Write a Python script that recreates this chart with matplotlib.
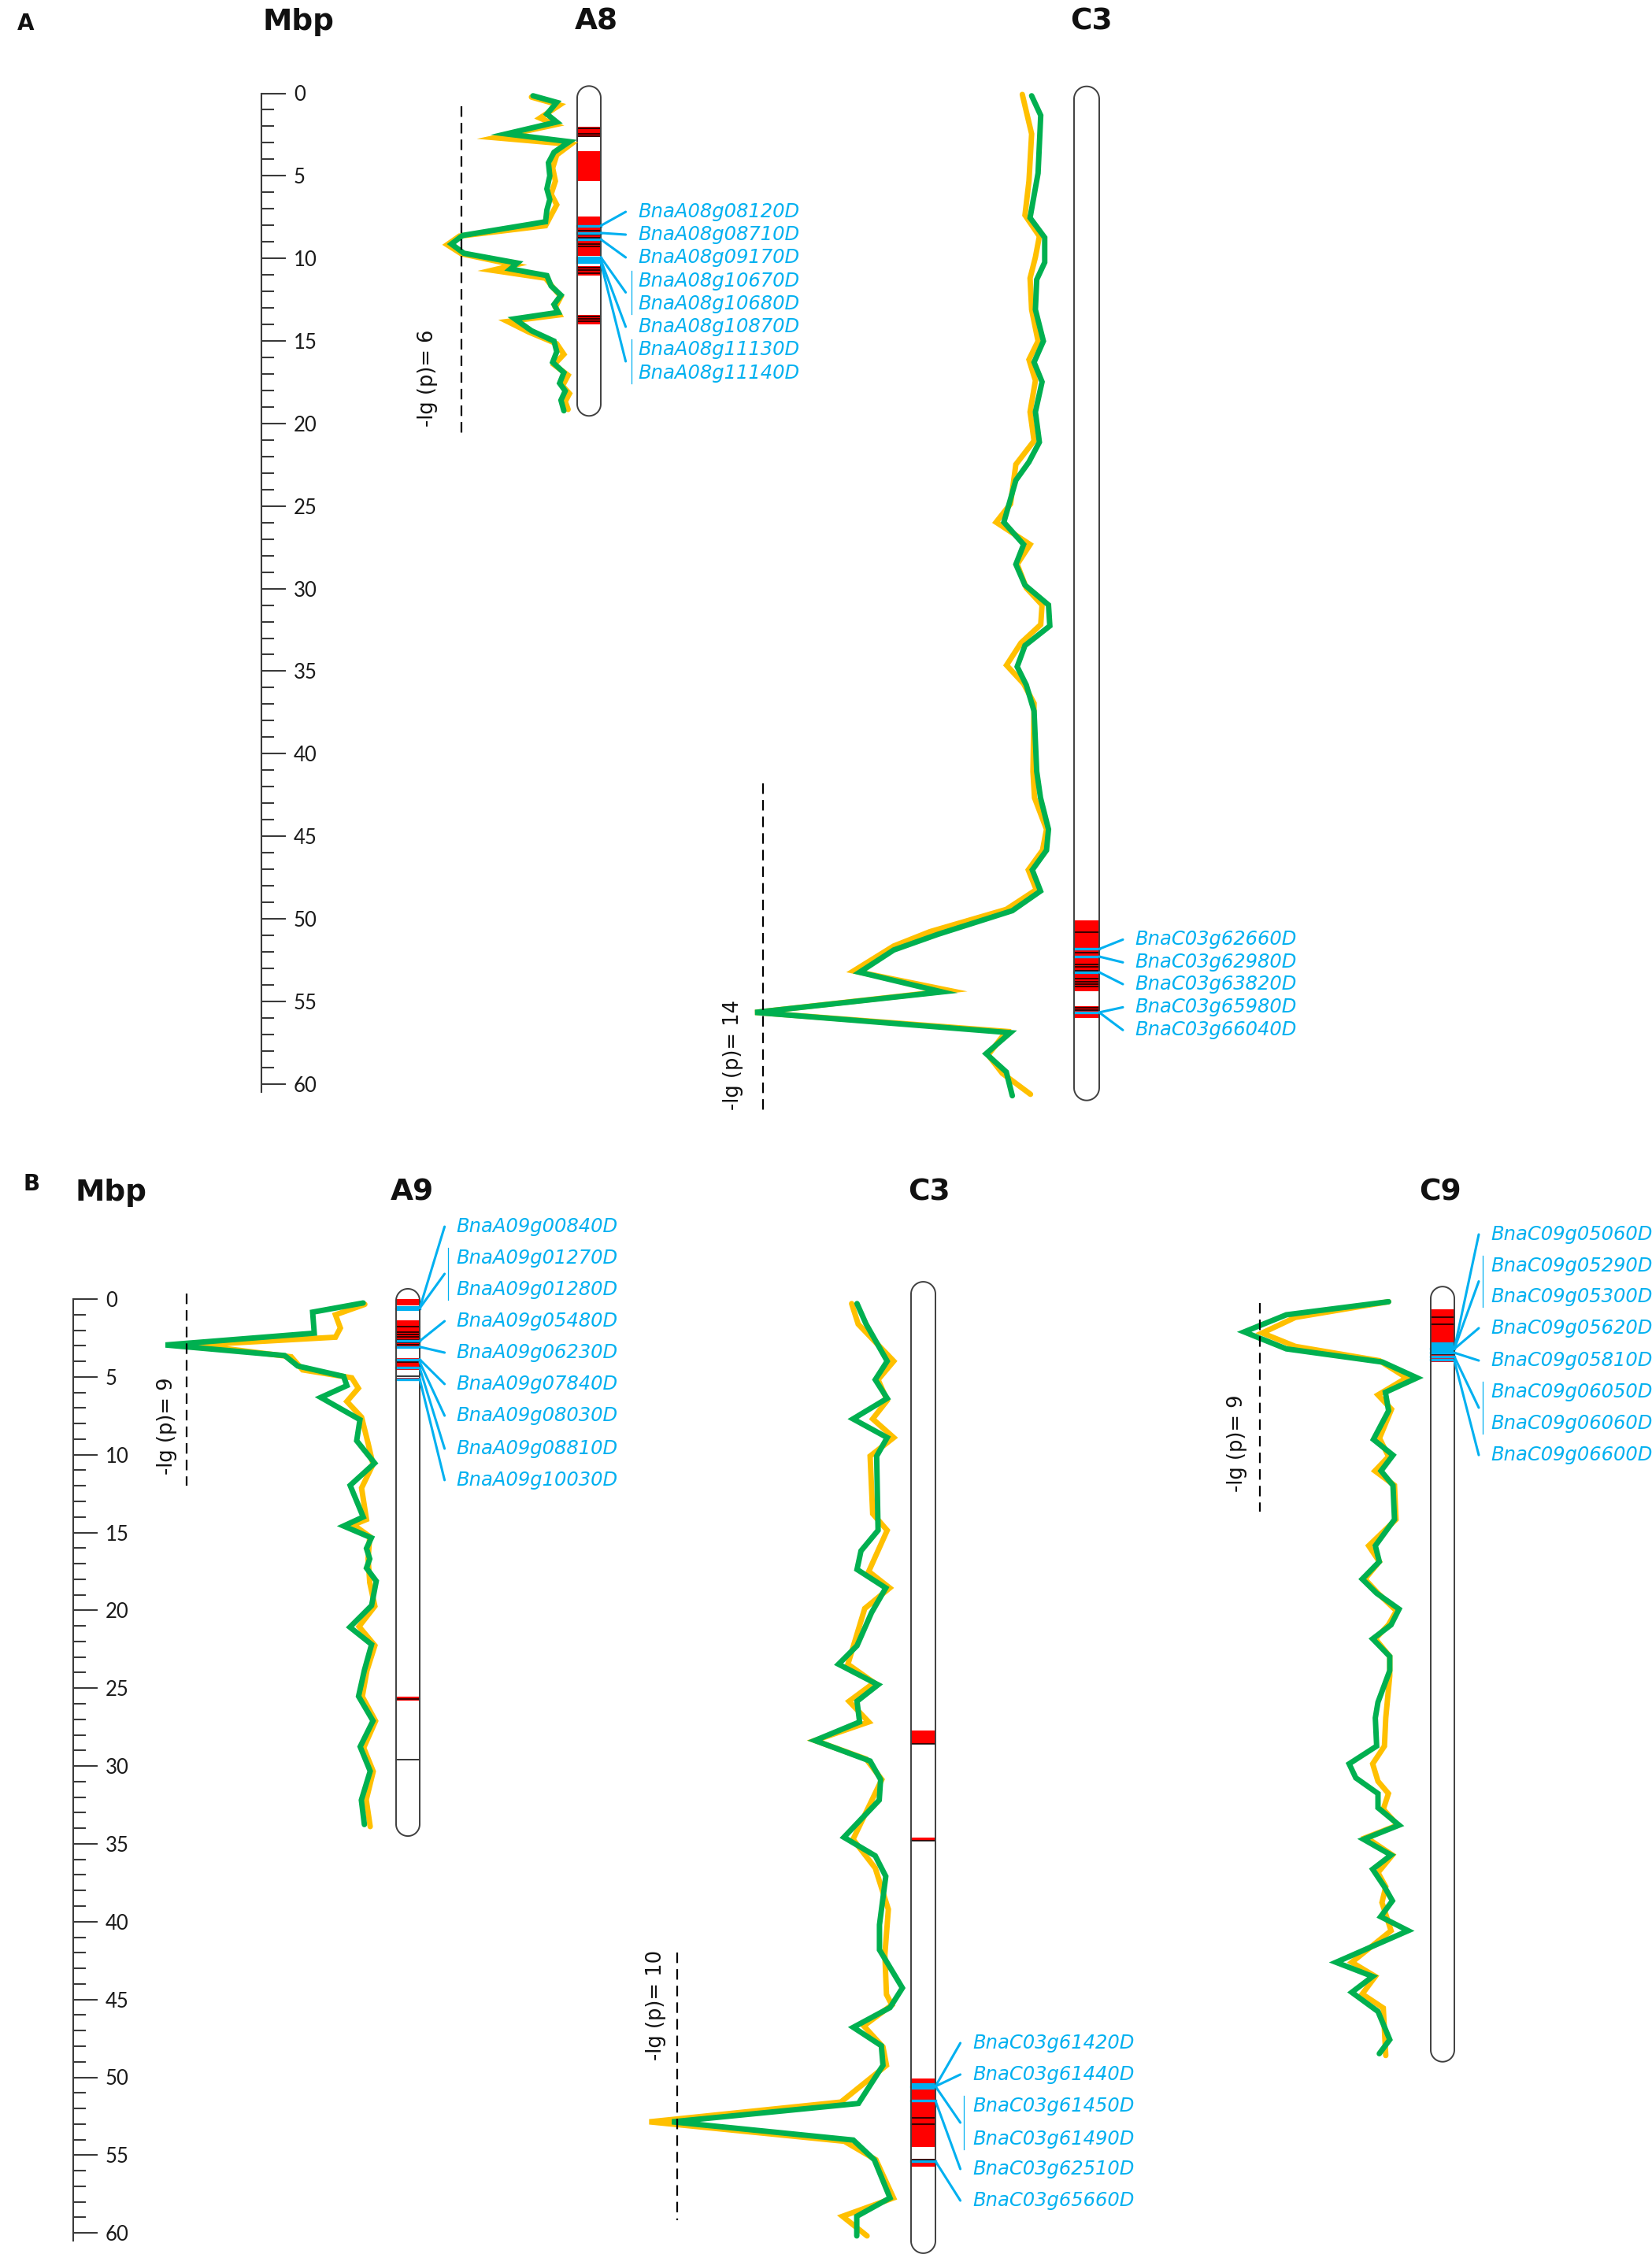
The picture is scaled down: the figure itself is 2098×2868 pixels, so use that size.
import numpy as np
import matplotlib
matplotlib.use("Agg")
import matplotlib.pyplot as plt
from matplotlib.patches import Rectangle, PathPatch
from matplotlib.path import Path

plt.rcParams['font.family'] = ['DejaVu Sans']

W, H = 2098, 2868
GREEN, YELLOW, BLUE, RED = '#00B050', '#FFC000', '#00B0F0', '#FF0000'
OUTLINE = '#3f3f3f'

# ======================= DATA =======================
ruler_major = [0, 5, 10, 15, 20, 25, 30, 35, 40, 45, 50, 55, 60]
ruler_minor = list(range(0, 61))

# ---------- Panel A : A8 ----------
A8_green_mbp = [0.15, 0.55, 1.26, 1.74, 2.46, 2.93, 3.57, 4.21, 5.0, 5.79, 6.43, 7.07, 7.78, 8.61, 9.13, 9.69,
                10.28, 10.64, 11.04, 11.67, 12.23, 12.79, 13.27, 13.66, 14.38, 15.01, 15.65, 16.29, 16.92, 17.56,
                18.03, 18.59, 19.23]
A8_green_lgp = [2.29, 1.06, 1.57, 1.06, 3.68, 0.40, 1.20, 1.49, 1.42, 1.57, 1.42, 1.57, 1.64, 5.94, 6.52, 5.87,
                3.10, 3.46, 1.57, 1.35, 0.84, 1.20, 0.98, 3.24, 2.37, 1.20, 1.06, 1.27, 0.69, 0.91, 0.62, 0.84, 0.69]
A8_yellow_mbp = [0.23, 0.71, 1.50, 1.90, 2.69, 3.09, 3.73, 4.52, 5.32, 6.11, 6.75, 7.38, 8.02, 8.65, 9.17, 9.72,
                 10.40, 10.72, 11.20, 11.84, 12.31, 12.95, 13.42, 13.82, 14.46, 15.17, 15.81, 16.44, 17.08, 17.72,
                 18.19, 18.67, 19.15]
A8_yellow_lgp = [2.37, 0.91, 1.93, 1.13, 4.26, 0.33, 1.06, 1.27, 1.13, 1.35, 1.06, 1.35, 1.64, 6.10, 6.74, 6.00,
                 3.24, 4.41, 1.64, 1.20, 0.84, 1.13, 0.91, 3.61, 2.51, 1.06, 0.69, 1.20, 0.47, 0.76, 0.40, 0.62, 0.47]
A8_threshold = 6
A8_genes = ['BnaA08g08120D', 'BnaA08g08710D', 'BnaA08g09170D', 'BnaA08g10670D', 'BnaA08g10680D',
            'BnaA08g10870D', 'BnaA08g11130D', 'BnaA08g11140D']
A8_label_mbp = [7.18, 8.56, 9.94, 11.37, 12.75, 14.14, 15.52, 16.95]
A8_groups = [[0], [1], [2], [3, 4], [5], [6, 7]]
A8_group_mbp = [8.02, 8.46, 8.85, 9.93, 10.09, 10.24]
A8_red = [(2.05, 2.65), (3.49, 5.32), (7.46, 9.85), (10.46, 11.04), (13.42, 13.98)]
A8_black = [2.1, 2.45, 2.6, 8.34, 8.57, 8.73, 9.13, 9.29, 10.56, 10.72, 10.88, 13.5, 13.65, 13.8]
A8_blue = [8.02, 8.46, 8.85, 9.93, 10.09, 10.24]
A8_blueband = []

# ---------- Panel A : C3 ----------
AC3_green_mbp = [0.15, 1.34, 4.84, 7.54, 8.74, 10.24, 11.28, 13.10, 15.01, 16.29, 17.48, 19.30, 21.13, 22.33,
                 23.44, 25.98, 27.33, 28.53, 29.79, 30.99, 32.26, 33.45, 34.73, 35.84, 37.42, 41.08, 42.67, 44.58,
                 45.85, 47.04, 48.32, 49.51, 50.94, 51.89, 53.24, 54.43, 55.67, 56.90, 58.17, 59.28, 60.72]
AC3_green_lgp = [1.91, 1.50, 1.62, 1.98, 1.32, 1.32, 1.68, 1.74, 1.38, 1.80, 1.44, 1.74, 1.56, 2.03, 2.62, 3.16,
                 2.27, 2.62, 2.21, 1.15, 1.09, 2.21, 2.56, 2.15, 1.80, 1.68, 1.51, 1.15, 1.24, 1.88, 1.51, 2.78,
                 6.13, 8.12, 9.66, 5.95, 14.36, 2.87, 3.96, 3.05, 2.78]
AC3_yellow_mbp = [0.07, 2.46, 5.32, 7.38, 8.66, 9.93, 11.20, 13.10, 15.01, 16.13, 17.40, 19.30, 21.05, 22.48,
                  24.87, 25.98, 27.33, 28.53, 29.96, 30.99, 32.18, 33.29, 34.64, 35.76, 36.95, 41.08, 42.67, 44.58,
                  45.85, 47.04, 48.24, 49.43, 50.78, 51.65, 53.16, 54.35, 55.67, 56.82, 58.25, 59.36, 60.63]
AC3_yellow_lgp = [2.33, 1.91, 2.03, 2.21, 1.56, 1.74, 1.98, 1.91, 1.62, 2.03, 1.74, 1.98, 1.80, 2.62, 2.86, 3.51,
                  1.98, 2.56, 2.15, 1.44, 1.50, 2.39, 3.04, 2.27, 1.80, 1.85, 1.78, 1.24, 1.42, 2.06, 1.70, 3.05,
                  6.49, 8.12, 9.93, 5.59, 14.36, 3.05, 3.87, 3.23, 1.96]
AC3_threshold = 14
AC3_genes = ['BnaC03g62660D', 'BnaC03g62980D', 'BnaC03g63820D', 'BnaC03g65980D', 'BnaC03g66040D']
AC3_label_mbp = [51.26, 52.64, 53.96, 55.36, 56.74]
AC3_groups = [[0], [1], [2], [3], [4]]
AC3_group_mbp = [51.83, 52.29, 53.24, 55.67, 55.67]
AC3_red = [(50.11, 54.40), (55.28, 56.02)]
AC3_black = [50.81, 52.05, 52.77, 52.92, 53.16, 53.64, 53.80, 53.96, 54.11, 55.39, 55.55]
AC3_blue = [51.83, 52.29, 53.24, 55.67]
AC3_blueband = []

# ---------- Panel B : A9 ----------
A9_green_mbp = [0.25, 0.84, 2.19, 2.95, 3.63, 4.30, 4.97, 5.56, 6.32, 7.75, 9.10, 10.54, 11.97, 14.0, 14.58,
                15.34, 16.02, 16.69, 17.28, 18.12, 19.69, 21.08, 22.19, 23.85, 25.52, 27.10, 28.76, 30.33, 32.19,
                33.76]
A9_green_lgp = [1.41, 3.58, 3.51, 9.89, 4.78, 4.22, 2.25, 2.11, 3.23, 1.55, 1.69, 0.92, 1.97, 1.41, 2.25, 1.06,
                1.27, 1.13, 1.27, 0.85, 1.05, 1.98, 1.05, 1.36, 1.61, 0.99, 1.54, 1.11, 1.49, 1.36]
A9_yellow_mbp = [0.34, 1.01, 1.86, 2.45, 2.95, 3.71, 4.55, 5.06, 5.73, 6.58, 7.59, 9.27, 10.62, 12.14, 14.16,
                 14.50, 15.26, 16.69, 18.21, 19.73, 21.04, 22.26, 23.87, 25.54, 27.11, 28.83, 30.35, 32.17, 33.89]
A9_yellow_lgp = [1.34, 2.60, 2.39, 2.60, 8.56, 4.50, 4.01, 1.90, 1.62, 2.11, 1.48, 1.20, 0.99, 1.48, 1.27, 1.83,
                 1.13, 1.20, 1.13, 0.91, 1.59, 0.91, 1.25, 1.45, 0.88, 1.39, 0.98, 1.28, 1.11]
A9_threshold = 9
A9_genes = ['BnaA09g00840D', 'BnaA09g01270D', 'BnaA09g01280D', 'BnaA09g05480D', 'BnaA09g06230D',
            'BnaA09g07840D', 'BnaA09g08030D', 'BnaA09g08810D', 'BnaA09g10030D']
A9_label_mbp = [-4.65, -2.63, -0.61, 1.42, 3.44, 5.46, 7.49, 9.61, 11.63]
A9_groups = [[0], [1, 2], [3], [4], [5], [6], [7], [8]]
A9_group_mbp = [0.59, 0.59, 2.70, 3.07, 3.88, 4.05, 4.42, 5.14]
A9_red = [(0.0, 0.42), (1.35, 3.12), (3.79, 4.55), (5.06, 5.23), (25.55, 25.8)]
A9_black = [0.67, 1.77, 2.11, 2.28, 2.44, 2.61, 2.78, 2.95, 4.05, 4.97, 25.7, 29.6]
A9_blue = [0.59, 2.70, 3.07, 3.88, 4.42, 5.14]
A9_blueband = [(0.45, 0.75)]

# ---------- Panel B : C3 ----------
BC3_green_mbp = [0.29, 1.61, 3.99, 5.18, 6.38, 7.70, 8.90, 10.09, 14.86, 16.18, 17.37, 18.56, 20.15, 22.27,
                 23.46, 24.78, 25.84, 27.17, 28.36, 29.68, 30.87, 32.19, 34.58, 35.77, 37.09, 40.2, 41.81, 44.26,
                 45.52, 46.79, 47.97, 49.23, 51.68, 52.86, 54.03, 55.30, 57.75, 58.93, 60.19]
BC3_green_lgp = [2.31, 1.92, 1.02, 1.53, 1.02, 2.48, 1.02, 1.47, 1.41, 2.14, 2.31, 1.08, 1.69, 2.31, 3.10, 1.41,
                 2.31, 2.20, 4.11, 1.75, 1.30, 1.36, 2.87, 1.53, 1.08, 1.35, 1.35, 0.37, 0.90, 2.47, 1.27, 1.20,
                 2.25, 10.22, 2.47, 1.57, 0.90, 2.32, 2.32]
BC3_yellow_mbp = [0.29, 1.61, 3.99, 5.18, 6.51, 7.70, 8.90, 10.09, 13.79, 14.86, 17.50, 18.56, 19.88, 23.46,
                  24.65, 25.84, 27.17, 28.36, 29.55, 30.87, 34.71, 36.56, 39.21, 42.13, 44.68, 45.35, 46.70, 48.05,
                  49.23, 51.59, 52.86, 54.11, 55.30, 57.75, 58.93, 60.19]
BC3_yellow_lgp = [2.54, 2.26, 0.74, 1.41, 1.02, 1.64, 0.74, 1.75, 1.64, 1.02, 1.81, 0.91, 1.98, 2.70, 1.58, 2.65,
                  1.81, 4.11, 1.92, 1.25, 2.48, 1.53, 0.97, 1.12, 1.05, 0.82, 2.02, 1.20, 1.05, 3.0, 11.19, 2.85,
                  1.50, 0.75, 2.93, 1.88]
BC3_threshold = 10
BC3_genes = ['BnaC03g61420D', 'BnaC03g61440D', 'BnaC03g61450D', 'BnaC03g61490D', 'BnaC03g62510D',
             'BnaC03g65660D']
BC3_label_mbp = [47.80, 49.82, 51.85, 53.97, 55.89, 57.92]
BC3_groups = [[0], [1], [2, 3], [4], [5]]
BC3_group_mbp = [50.58, 50.58, 50.58, 51.51, 55.39]
BC3_red = [(27.7, 28.6), (34.58, 34.8), (50.08, 54.46), (55.22, 55.72)]
BC3_black = [28.6, 34.8, 52.6, 53.03, 55.3]
BC3_blue = [50.58, 51.51, 55.39]
BC3_blueband = [(50.4, 50.8)]

# ---------- Panel B : C9 ----------
C9_green_mbp = [0.17, 1.01, 2.11, 3.20, 4.05, 5.06, 5.99, 7.17, 9.02, 10.03, 11.04, 11.97, 14.16, 15.85, 16.87,
                17.99, 18.90, 19.92, 20.93, 21.83, 22.96, 23.87, 25.90, 26.91, 28.72, 29.86, 30.76, 31.77, 32.68,
                33.80, 34.71, 35.72, 36.63, 37.76, 38.66, 39.68, 40.58, 42.61, 43.52, 44.54, 45.77, 47.58, 48.48]
C9_green_lgp = [2.22, 7.61, 9.83, 7.61, 2.54, 0.72, 2.39, 2.22, 3.02, 1.99, 2.62, 1.99, 1.91, 2.92, 2.71, 3.61,
                2.85, 1.67, 2.09, 3.06, 2.16, 2.16, 2.78, 2.92, 2.85, 4.30, 3.95, 2.78, 2.78, 1.67, 3.54, 2.09,
                3.06, 2.44, 2.02, 2.64, 1.19, 4.99, 3.06, 4.16, 2.78, 2.16, 2.71]
C9_yellow_mbp = [0.17, 1.18, 2.18, 3.04, 3.96, 5.06, 6.16, 7.08, 8.94, 10.12, 11.04, 11.97, 14.16, 15.85, 16.87,
                 17.99, 18.90, 20.03, 20.93, 21.83, 22.96, 24.21, 26.91, 28.72, 29.86, 30.98, 31.77, 32.78, 33.80,
                 34.59, 35.72, 36.85, 37.76, 38.77, 40.58, 42.61, 43.52, 44.65, 45.55, 48.60]
C9_yellow_lgp = [2.22, 7.14, 8.88, 7.14, 2.70, 1.27, 2.78, 2.07, 2.70, 2.22, 2.94, 1.91, 1.83, 3.27, 2.71, 3.47,
                 2.78, 1.81, 2.23, 2.92, 2.16, 2.16, 2.37, 2.44, 3.06, 2.78, 2.23, 2.50, 1.74, 3.40, 2.02, 2.78,
                 2.37, 2.57, 2.09, 4.16, 2.92, 3.61, 2.50, 2.37]
C9_threshold = 9
C9_genes = ['BnaC09g05060D', 'BnaC09g05290D', 'BnaC09g05300D', 'BnaC09g05620D', 'BnaC09g05810D',
            'BnaC09g06050D', 'BnaC09g06060D', 'BnaC09g06600D']
C9_label_mbp = [-4.15, -2.12, -0.15, 1.87, 3.95, 5.97, 7.99, 10.02]
C9_groups = [[0], [1, 2], [3], [4], [5, 6], [7]]
C9_group_mbp = [3.2, 3.2, 3.2, 3.45, 3.7, 3.95]
C9_red = [(0.67, 2.78), (3.54, 4.05)]
C9_black = [1.15, 1.60, 3.54, 3.75]
C9_blue = [3.2, 3.45, 3.7, 3.88]
C9_blueband = [(2.78, 3.54)]

# ======================= LAYOUT (pixels) =======================
# panel: (top_px, bottom_px, px of 0 Mbp, px per Mbp, ruler x)
PANEL_A = (0, 1440, 118.5, 20.97, 332.3)
PANEL_B = (1440, 2868, 1650.0, 19.77, 93.3)

fig = plt.figure(figsize=(W / 100, H / 100), dpi=100)


def ylim_of(panel):
    top, bot, m0, ppm, _ = panel
    return ((bot - m0) / ppm, (top - m0) / ppm)


def panel_axes(panel):
    top, bot, m0, ppm, _ = panel
    ax = fig.add_axes([0, 1 - bot / H, 1, (bot - top) / H])
    ax.set_xlim(0, W)
    ax.set_ylim(*ylim_of(panel))
    ax.axis('off')
    return ax


def ruler(panel):
    top, bot, m0, ppm, xline = panel
    ax = fig.add_axes([(xline - 20) / W, 1 - bot / H, 20 / W, (bot - top) / H])
    ax.set_xlim(0, 1)
    ax.set_ylim(*ylim_of(panel))
    ax.patch.set_visible(False)
    for s in ['top', 'bottom', 'left']:
        ax.spines[s].set_visible(False)
    ax.spines['right'].set_bounds(0, 60.5)
    ax.spines['right'].set_linewidth(1.5)
    ax.spines['right'].set_color('#3a3a3a')
    ax.set_xticks([])
    ax.yaxis.tick_right()
    ax.set_yticks(ruler_major)
    ax.set_yticklabels([str(v) for v in ruler_major], family=['Lato', 'DejaVu Sans'])
    ax.set_yticks(ruler_minor, minor=True)
    ax.tick_params(axis='y', which='major', direction='out', length=22.3, width=1.5, pad=7,
                   labelsize=18.5, color='#3a3a3a', labelcolor='#1a1a1a')
    ax.tick_params(axis='y', which='minor', direction='out', length=11.5, width=1.5, color='#3a3a3a')
    return ax


def track(panel, x0, s, g_mbp, g_lgp, y_mbp, y_lgp, thr, dash_rng):
    top, bot, m0, ppm, _ = panel
    L = 18.0
    left = x0 - s * L
    ax = fig.add_axes([left / W, 1 - bot / H, s * L / W, (bot - top) / H])
    ax.set_xlim(L, 0)
    ax.set_ylim(*ylim_of(panel))
    ax.axis('off')
    kw = dict(lw=5.0, solid_joinstyle='miter', solid_capstyle='round', clip_on=False)
    ax.plot(y_lgp, y_mbp, color=YELLOW, **kw)
    ax.plot(g_lgp, g_mbp, color=GREEN, **kw)
    ax.plot([thr, thr], list(dash_rng), color='black', lw=1.6, dashes=(6, 3.5), clip_on=False)
    return ax


def chromosome(ax, panel, xl, xr, ytop, ybot, red, black, blue, blueband):
    ppm = panel[3]
    w = xr - xl
    for a, b in red:
        ax.add_patch(Rectangle((xl, a), w, b - a, facecolor=RED, edgecolor='none', zorder=2))
    for a, b in blueband:
        ax.add_patch(Rectangle((xl, a), w, b - a, facecolor=BLUE, edgecolor='none', zorder=3))
    for y in black:
        ax.plot([xl, xr], [y, y], color='black', lw=1.1, zorder=3)
    for y in blue:
        ax.plot([xl, xr], [y, y], color=BLUE, lw=2.4, zorder=4)
    r = w / 2.0
    rm = r / ppm
    cx = (xl + xr) / 2.0
    t1 = np.linspace(np.pi, 0, 40)
    t2 = np.linspace(0, -np.pi, 40)
    xs = np.concatenate([cx + r * np.cos(t1), cx + r * np.cos(t2)])
    ys = np.concatenate([ytop + rm - rm * np.sin(t1), ybot - rm - rm * np.sin(t2)])
    verts = np.column_stack([xs, ys])
    verts = np.vstack([verts, verts[:1]])
    codes = [Path.MOVETO] + [Path.LINETO] * (len(verts) - 2) + [Path.CLOSEPOLY]
    ax.add_patch(PathPatch(Path(verts, codes), facecolor='none', edgecolor=OUTLINE, lw=1.4, zorder=5))


def gene_labels(ax, panel, xr, x_end, x_br, x_lab, names, label_mbp, groups, group_mbp):
    ppm = panel[3]
    ext = 13.0 / ppm
    for idxs, gy in zip(groups, group_mbp):
        ys = [label_mbp[i] for i in idxs]
        yc = float(np.mean(ys))
        ax.plot([xr, x_end], [gy, yc], color=BLUE, lw=2.2, solid_capstyle='round', zorder=6)
        if len(idxs) > 1:
            ax.plot([x_br, x_br], [min(ys) - ext, max(ys) + ext], color=BLUE, lw=0.9, zorder=6)
    for name, y in zip(names, label_mbp):
        ax.text(x_lab, y, name, color=BLUE, fontsize=17.5, fontstyle='italic', ha='left', va='center', zorder=7)


def thr_text(ax, x_px, y_bottom, thr):
    ax.text(x_px, y_bottom, '-lg (p)= %d' % thr, rotation=90, ha='center', va='bottom',
            fontsize=18.5, color='#111111')


# ------------------- Panel A -------------------
axA = panel_axes(PANEL_A)
ruler(PANEL_A)
chromosome(axA, PANEL_A, 733, 763, -0.44, 19.54, A8_red, A8_black, A8_blue, A8_blueband)
chromosome(axA, PANEL_A, 1364, 1396, -0.42, 61.0, AC3_red, AC3_black, AC3_blue, AC3_blueband)
gene_labels(axA, PANEL_A, 763, 794.6, 802, 810.7, A8_genes, A8_label_mbp, A8_groups, A8_group_mbp)
gene_labels(axA, PANEL_A, 1396, 1426, 1431, 1441, AC3_genes, AC3_label_mbp, AC3_groups, AC3_group_mbp)
thr_text(axA, 543, 20.19, A8_threshold)
thr_text(axA, 931, 61.59, AC3_threshold)
track(PANEL_A, 733, 24.5, A8_green_mbp, A8_green_lgp, A8_yellow_mbp, A8_yellow_lgp, A8_threshold, (0.79, 20.72))
track(PANEL_A, 1364, 28.2, AC3_green_mbp, AC3_green_lgp, AC3_yellow_mbp, AC3_yellow_lgp, AC3_threshold,
      (41.80, 61.83))

# ------------------- Panel B -------------------
axB = panel_axes(PANEL_B)
ruler(PANEL_B)
chromosome(axB, PANEL_B, 503, 533, -0.66, 34.5, A9_red, A9_black, A9_blue, A9_blueband)
chromosome(axB, PANEL_B, 1157, 1188, -1.11, 61.3, BC3_red, BC3_black, BC3_blue, BC3_blueband)
chromosome(axB, PANEL_B, 1817, 1847, -0.8, 49.0, C9_red, C9_black, C9_blue, C9_blueband)
gene_labels(axB, PANEL_B, 533, 564.6, 568.7, 579, A9_genes, A9_label_mbp, A9_groups, A9_group_mbp)
gene_labels(axB, PANEL_B, 1188, 1219.6, 1224, 1235, BC3_genes, BC3_label_mbp, BC3_groups, BC3_group_mbp)
gene_labels(axB, PANEL_B, 1847, 1878, 1883, 1893, C9_genes, C9_label_mbp, C9_groups, C9_group_mbp)
thr_text(axB, 212, 11.28, A9_threshold)
thr_text(axB, 833.5, 48.91, BC3_threshold)
thr_text(axB, 1570.6, 12.39, C9_threshold)
track(PANEL_B, 503, 29.6, A9_green_mbp, A9_green_lgp, A9_yellow_mbp, A9_yellow_lgp, A9_threshold, (-0.35, 11.99))
track(PANEL_B, 1157, 29.7, BC3_green_mbp, BC3_green_lgp, BC3_yellow_mbp, BC3_yellow_lgp, BC3_threshold,
      (41.98, 59.18))
track(PANEL_B, 1817, 24.1, C9_green_mbp, C9_green_lgp, C9_yellow_mbp, C9_yellow_lgp, C9_threshold, (0.25, 13.66))

# ------------------- headers -------------------
def ftext(x, y, s, size, **kw):
    fig.text(x / W, 1 - y / H, s, fontsize=size, fontweight='bold', color='#111111', va='baseline', **kw)

ftext(22, 38, 'A', 20, ha='left')
ftext(29, 1512, 'B', 20, ha='left')
ftext(379, 38, 'Mbp', 27, ha='center')
ftext(757, 38, 'A8', 27, ha='center')
ftext(1386, 38, 'C3', 27, ha='center')
ftext(141, 1525, 'Mbp', 27, ha='center')
ftext(523, 1525, 'A9', 27, ha='center')
ftext(1180, 1525, 'C3', 27, ha='center')
ftext(1829, 1525, 'C9', 27, ha='center')

fig.savefig('out.png', dpi=100, facecolor='white')
